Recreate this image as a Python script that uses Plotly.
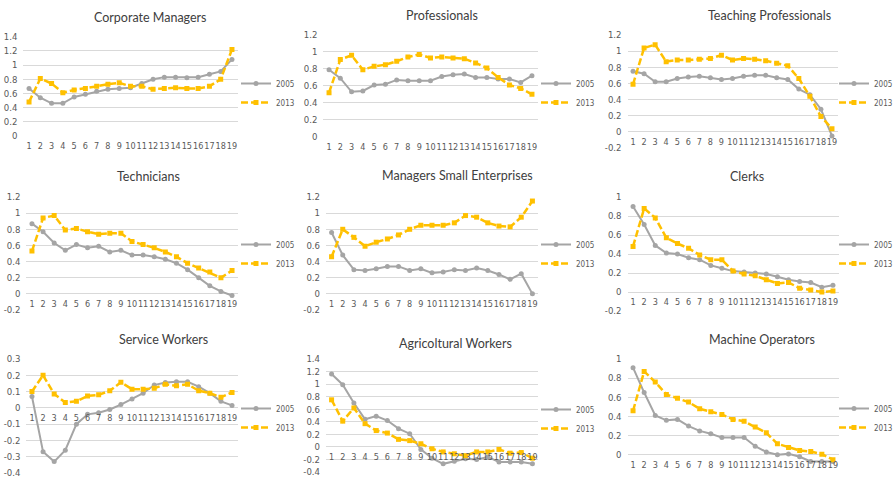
import plotly.graph_objects as go

W, H = 894, 479

periods = list(range(1, 20))
period_labels = [str(p) for p in periods]
years = ["2005", "2013"]

titles = [
    "Corporate Managers", "Professionals", "Teaching Professionals",
    "Technicians", "Managers Small Enterprises", "Clerks",
    "Service Workers", "Agricoltural Workers", "Machine Operators",
]

corporate_2005 = [0.67, 0.54, 0.46, 0.46, 0.55, 0.59, 0.63, 0.66, 0.67, 0.68,
                  0.74, 0.80, 0.83, 0.83, 0.82, 0.83, 0.87, 0.91, 1.08]
corporate_2013 = [0.48, 0.81, 0.74, 0.61, 0.65, 0.67, 0.70, 0.73, 0.75, 0.70,
                  0.70, 0.66, 0.67, 0.68, 0.67, 0.67, 0.70, 0.80, 1.22]

professionals_2005 = [0.79, 0.69, 0.53, 0.54, 0.61, 0.62, 0.67, 0.66, 0.66, 0.66,
                      0.71, 0.73, 0.74, 0.70, 0.70, 0.68, 0.68, 0.64, 0.72]
professionals_2013 = [0.52, 0.91, 0.96, 0.79, 0.83, 0.85, 0.89, 0.94, 0.97, 0.93,
                      0.94, 0.93, 0.92, 0.87, 0.81, 0.70, 0.61, 0.57, 0.50]

teaching_2005 = [0.75, 0.72, 0.62, 0.62, 0.66, 0.68, 0.69, 0.67, 0.65, 0.66,
                 0.69, 0.70, 0.70, 0.67, 0.65, 0.53, 0.46, 0.28, -0.05]
teaching_2013 = [0.59, 1.04, 1.08, 0.87, 0.89, 0.89, 0.90, 0.91, 0.95, 0.89,
                 0.91, 0.90, 0.88, 0.85, 0.82, 0.66, 0.44, 0.19, 0.04]

technicians_2005 = [0.87, 0.77, 0.63, 0.54, 0.61, 0.57, 0.59, 0.52, 0.54, 0.48,
                    0.48, 0.46, 0.43, 0.38, 0.30, 0.20, 0.10, 0.03, -0.02]
technicians_2013 = [0.53, 0.94, 0.97, 0.79, 0.81, 0.77, 0.74, 0.75, 0.75, 0.65,
                    0.61, 0.57, 0.52, 0.46, 0.38, 0.32, 0.27, 0.20, 0.29]

small_mgr_2005 = [0.76, 0.48, 0.30, 0.29, 0.31, 0.34, 0.34, 0.29, 0.31, 0.26,
                  0.27, 0.30, 0.29, 0.32, 0.29, 0.24, 0.18, 0.25, 0.00]
small_mgr_2013 = [0.46, 0.80, 0.70, 0.59, 0.64, 0.68, 0.73, 0.80, 0.85, 0.85,
                  0.85, 0.88, 0.97, 0.95, 0.88, 0.84, 0.83, 0.95, 1.15]

clerks_2005 = [0.90, 0.71, 0.49, 0.41, 0.40, 0.36, 0.34, 0.28, 0.25, 0.22,
               0.21, 0.20, 0.19, 0.16, 0.13, 0.11, 0.10, 0.05, 0.07]
clerks_2013 = [0.48, 0.88, 0.78, 0.57, 0.51, 0.46, 0.39, 0.34, 0.34, 0.22,
               0.19, 0.17, 0.13, 0.09, 0.10, 0.04, 0.02, 0.00, 0.01]

service_2005 = [0.07, -0.27, -0.33, -0.26, -0.10, -0.04, -0.03, -0.01, 0.02, 0.055,
                0.09, 0.14, 0.155, 0.16, 0.16, 0.13, 0.09, 0.04, 0.015]
service_2013 = [0.10, 0.20, 0.085, 0.033, 0.04, 0.073, 0.08, 0.105, 0.157, 0.115,
                0.115, 0.12, 0.145, 0.135, 0.145, 0.105, 0.09, 0.065, 0.095]

agricultural_2005 = [1.16, 0.99, 0.70, 0.44, 0.49, 0.42, 0.29, 0.21, -0.04, -0.18,
                     -0.27, -0.23, -0.19, -0.20, -0.16, -0.24, -0.24, -0.24, -0.27]
agricultural_2013 = [0.75, 0.41, 0.62, 0.37, 0.26, 0.22, 0.12, 0.10, 0.05, -0.03,
                     -0.08, -0.11, -0.14, -0.08, -0.08, -0.04, -0.10, -0.09, -0.18]

machine_2005 = [0.91, 0.65, 0.41, 0.36, 0.37, 0.30, 0.25, 0.22, 0.18, 0.18,
                0.18, 0.09, 0.03, 0.00, 0.01, -0.02, -0.07, -0.07, -0.07]
machine_2013 = [0.46, 0.87, 0.76, 0.63, 0.59, 0.55, 0.48, 0.45, 0.42, 0.37,
                0.35, 0.29, 0.23, 0.115, 0.077, 0.045, 0.035, 0.007, -0.05]

series = [
    (corporate_2005, corporate_2013),
    (professionals_2005, professionals_2013),
    (teaching_2005, teaching_2013),
    (technicians_2005, technicians_2013),
    (small_mgr_2005, small_mgr_2013),
    (clerks_2005, clerks_2013),
    (service_2005, service_2013),
    (agricultural_2005, agricultural_2013),
    (machine_2005, machine_2013),
]

# value axis: (min, max, step)
y_scales = [
    (0.0, 1.4, 0.2), (0.0, 1.2, 0.2), (-0.2, 1.2, 0.2),
    (-0.2, 1.2, 0.2), (-0.2, 1.2, 0.2), (-0.2, 1.0, 0.2),
    (-0.4, 0.3, 0.1), (-0.4, 1.4, 0.2), (-0.2, 1.0, 0.2),
]

# plot boxes in pixels: left, right, top, bottom
boxes = [
    (23.4, 237.6, 36.7, 136.0), (323.4, 537.6, 35.0, 136.7), (627.5, 837.5, 35.0, 148.0),
    (26.4, 237.6, 197.0, 310.0), (326.0, 538.0, 197.0, 310.0), (627.5, 838.5, 197.0, 311.0),
    (26.4, 237.6, 359.0, 473.0), (326.0, 538.0, 359.0, 472.0), (627.5, 838.5, 359.0, 474.0),
]
title_pos = [(150, 17), (442, 16), (769, 16),
             (148, 177), (458, 176), (747, 177),
             (163, 339), (455, 343), (762, 339)]
legend_pos = [(236, 69), (536, 69), (834, 69),
              (236, 230), (536, 230), (834, 230),
              (236, 394), (536, 395), (834, 394)]

GRAY = "#a5a5a5"
GOLD = "#ffc000"
TEXT = "#595959"
FONT = "Lato, 'Open Sans', sans-serif"
NARROW = "'Liberation Sans Narrow', 'DejaVu Sans Condensed', Lato, sans-serif"


def tick_list(lo, hi, step):
    n = int(round((hi - lo) / step))
    vals = [round(lo + i * step, 2) for i in range(n + 1)]
    labels = ["0" if abs(v) < 1e-9 else f"{v:g}" for v in vals]
    return vals, labels


fig = go.Figure()
layout = dict(
    width=W, height=H, autosize=False,
    margin=dict(l=0, r=0, t=0, b=0, pad=0, autoexpand=False),
    paper_bgcolor="white", plot_bgcolor="white",
    font=dict(family=FONT, color=TEXT),
    annotations=[],
)

for i, (title, (s05, s13), (lo, hi, step), box, tpos, lpos) in enumerate(
        zip(titles, series, y_scales, boxes, title_pos, legend_pos)):
    n = i + 1
    sfx = "" if n == 1 else str(n)
    xid, yid = "x" + sfx, "y" + sfx
    leg = "legend" + sfx

    for yr, vals, color, width, dash, sym in (
            (years[0], s05, GRAY, 2, "solid", "circle"),
            (years[1], s13, GOLD, 2.5, "7px,3px", "square")):
        fig.add_trace(go.Scatter(
            x=periods, y=vals, name=yr, mode="lines+markers",
            line=dict(color=color, width=width, dash=dash),
            marker=dict(symbol=sym, size=5, color=color),
            xaxis=xid, yaxis=yid, legend=leg,
            hovertemplate="%{y}<extra>" + yr + "</extra>",
        ))

    left, right, top, bottom = box
    dom_y = [1 - bottom / H, 1 - top / H]
    zero_pos = dom_y[0] + (0 - lo) / (hi - lo) * (dom_y[1] - dom_y[0])
    yt_vals, yt_text = tick_list(lo, hi, step)

    layout["xaxis" + sfx] = dict(
        domain=[left / W, right / W], range=[0.5, 19.5],
        tickvals=periods, ticktext=period_labels, ticks="", tickangle=0,
        showgrid=False, zeroline=False, showline=False,
        anchor="free", position=zero_pos,
        tickfont=dict(size=9, color=TEXT, family=NARROW),
        ticklabelstandoff=3, fixedrange=True,
    )
    layout["yaxis" + sfx] = dict(
        domain=dom_y, range=[lo, hi], anchor=xid,
        tickvals=yt_vals, ticktext=yt_text, ticks="",
        showgrid=True, gridcolor="#d9d9d9", gridwidth=1,
        zeroline=False, showline=False,
        tickfont=dict(size=9.5, color=TEXT, family=NARROW),
        ticklabelstandoff=5, fixedrange=True,
    )
    layout[leg] = dict(
        x=lpos[0] / W, y=1 - lpos[1] / H, xanchor="left", yanchor="top",
        bgcolor="rgba(0,0,0,0)", borderwidth=0,
        font=dict(size=8, color=TEXT, family=NARROW),
        tracegroupgap=0, itemclick=False, itemdoubleclick=False,
    )
    layout["annotations"].append(dict(
        text=title, x=tpos[0] / W, y=1 - tpos[1] / H,
        xref="paper", yref="paper", xanchor="center", yanchor="middle",
        showarrow=False, font=dict(size=12.5, color="#404040", family=FONT),
    ))

fig.update_layout(**layout)
fig.write_html("out.html")
